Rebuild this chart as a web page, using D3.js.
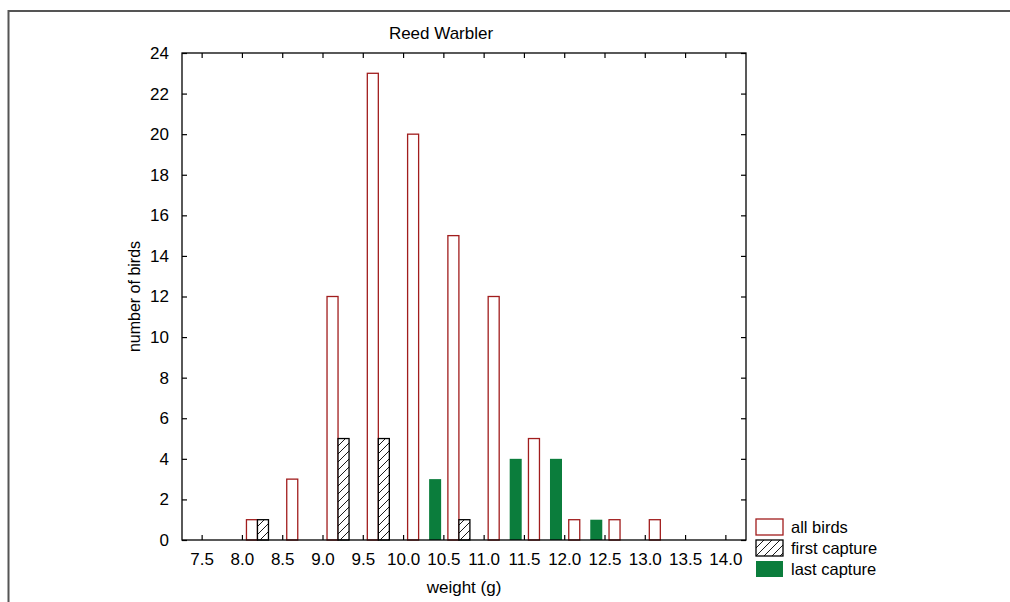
<!DOCTYPE html>
<html>
<head>
<meta charset="utf-8">
<script src="https://cdn.jsdelivr.net/npm/d3@7"></script>
<style>
  html, body { margin: 0; padding: 0; background: #fff; }
  svg { display: block; }
  text { font-family: "Liberation Sans", Arial, sans-serif; fill: #000; }
</style>
</head>
<body>
<svg id="chart" width="1010" height="602"></svg>
<script>
// ---- data ----
const categories = ["7.5","8.0","8.5","9.0","9.5","10.0","10.5","11.0","11.5","12.0","12.5","13.0","13.5","14.0"];
const allBirds     = [0, 1, 3, 12, 23, 20, 15, 12, 5, 1, 1, 1, 0, 0];
const firstCapture = [0, 1, 0, 5, 5, 0, 1, 0, 0, 0, 0, 0, 0, 0];
const lastCapture  = [0, 0, 0, 0, 0, 3, 0, 4, 4, 1, 0, 0, 0, 0];
const seriesNames  = ["all birds", "first capture", "last capture"];
const yTicks = [0, 2, 4, 6, 8, 10, 12, 14, 16, 18, 20, 22, 24];
const titleText = "Reed Warbler";
const xTitle = "weight (g)";
const yTitle = "number of birds";

// ---- layout ----
const svg = d3.select("#chart");
const L = 182, R = 746, T = 53, B = 540;

const defs = svg.append("defs");
const pat = defs.append("pattern")
  .attr("id", "hatch").attr("patternUnits", "userSpaceOnUse")
  .attr("width", 8).attr("height", 8);
pat.append("rect").attr("width", 8).attr("height", 8).attr("fill", "#fff");
pat.append("path").attr("d", "M-1,9 L9,-1 M-2,2 L2,-2 M6,10 L10,6")
  .attr("stroke", "#000").attr("stroke-width", 0.9);

const styles = {
  "all birds":     { fill: "#fff", stroke: "#a11d1d" },
  "first capture": { fill: "url(#hatch)", stroke: "#000" },
  "last capture":  { fill: "#0b7d3c", stroke: "none" }
};

// outer frame
svg.append("rect").attr("x", 8.5).attr("y", 11).attr("width", 1100).attr("height", 700)
  .attr("fill", "none").attr("stroke", "#555").attr("stroke-width", 2);

const x = d3.scaleBand().domain(categories).range([L, R]).padding(0);
const bw = x.bandwidth();
const xs = d3.scaleBand().domain(seriesNames).range([bw * 0.6, bw * 1.42]).padding(0);
const y = d3.scaleLinear().domain([0, 24]).range([B, T]);

// bars
const seriesData = [allBirds, firstCapture, lastCapture];
seriesNames.forEach((s, si) => {
  const st = styles[s];
  const data = categories.map((c, i) => ({ c, v: seriesData[si][i] })).filter(d => d.v > 0);
  svg.append("g").selectAll("rect").data(data).join("rect")
    .attr("x", d => x(d.c) + xs(s) + (st.stroke === "none" ? -0.5 : 0))
    .attr("y", d => y(d.v))
    .attr("width", xs.bandwidth() + (st.stroke === "none" ? 1 : 0))
    .attr("height", d => y(0) - y(d.v))
    .attr("fill", st.fill)
    .attr("stroke", st.stroke)
    .attr("stroke-width", 1.3);
});

// axes with inward ticks
const fs = 17;
const xBottom = d3.axisBottom(x).tickSizeInner(-5).tickSizeOuter(0).tickPadding(13);
const gxb = svg.append("g").attr("transform", `translate(0,${B})`).call(xBottom);
const xTop = d3.axisTop(x).tickSizeInner(-5).tickSizeOuter(0).tickFormat("");
const gxt = svg.append("g").attr("transform", `translate(0,${T})`).call(xTop);
const yLeft = d3.axisLeft(y).tickValues(yTicks).tickSizeInner(-5).tickSizeOuter(0).tickPadding(13);
const gyl = svg.append("g").attr("transform", `translate(${L},0)`).call(yLeft);
const yRight = d3.axisRight(y).tickValues(yTicks).tickSizeInner(-5).tickSizeOuter(0).tickFormat("");
const gyr = svg.append("g").attr("transform", `translate(${R},0)`).call(yRight);
[gxb, gxt, gyl, gyr].forEach(g => {
  g.select(".domain").remove();
  g.selectAll(".tick line").attr("stroke", "#000").attr("stroke-width", 1.2);
  g.selectAll("text").style("font-family", '"Liberation Sans", Arial, sans-serif')
    .style("font-size", fs + "px").attr("fill", "#000");
});

// plot frame
svg.append("rect").attr("x", L).attr("y", T).attr("width", R - L).attr("height", B - T)
  .attr("fill", "none").attr("stroke", "#000").attr("stroke-width", 1.3);

// titles
svg.append("text").attr("x", 441).attr("y", 39).attr("text-anchor", "middle")
  .style("font-size", "17px").text(titleText);
svg.append("text").attr("x", (L + R) / 2).attr("y", 593).attr("text-anchor", "middle")
  .style("font-size", "17px").text(xTitle);
svg.append("text").attr("transform", `translate(140,${(T + B) / 2}) rotate(-90)`)
  .attr("text-anchor", "middle").style("font-size", "16px").text(yTitle);

// legend
const lg = svg.append("g").attr("transform", "translate(756,519)");
seriesNames.forEach((s, i) => {
  const st = styles[s];
  const g = lg.append("g").attr("transform", `translate(0,${i * 21})`);
  g.append("rect").attr("x", 0).attr("y", 0).attr("width", 27).attr("height", 16)
    .attr("fill", st.fill).attr("stroke", st.stroke).attr("stroke-width", 1.3);
  g.append("text").attr("x", 35).attr("y", 14).style("font-size", "16.5px").text(s);
});
</script>
</body>
</html>
